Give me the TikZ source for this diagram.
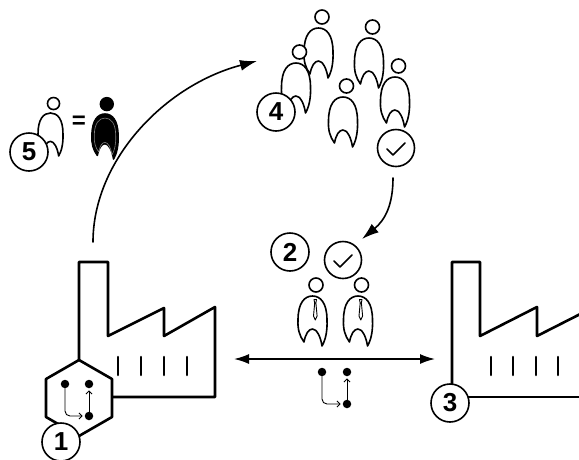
\documentclass[tikz,border=0pt]{standalone}
\usepackage{fontspec}
\setmainfont{Liberation Sans}
\usetikzlibrary{arrows.meta}
% body of a standing figure, top of the body at the origin (y points down)
\newcommand{\bodyoutline}{(-8.5,46) .. controls (-13,40) and (-15,33) .. (-14.5,24) .. controls (-14.5,7) and (-8,0) .. (0,0) .. controls (8,0) and (14.5,7) .. (14.5,24) .. controls (15,35) and (13,44) .. (9.5,50) .. controls (8,40) and (4,33) .. (0,33) .. controls (-4,33) and (-7,38) .. cycle}
\begin{document}
\begin{tikzpicture}[x=1pt, y=-1pt, line join=round, line cap=round, >={Latex[length=17pt,width=11pt]},
	num/.style={circle, draw, line width=1.6pt, fill=white, minimum size=38pt, inner sep=0pt, font=\fontsize{26}{26}\selectfont\bfseries},
	ok/.style={circle, draw, line width=1.6pt, fill=white, minimum size=37pt, inner sep=0pt},
	dot/.style={circle, fill=black, inner sep=0pt, minimum size=8.5pt},
	wall/.style={line width=2.6pt},
	link/.style={line width=1.6pt},
	flow/.style={-{Straight Barb[length=3pt,width=6pt]}, line width=0.9pt, shorten >=2pt},
	person/.pic={\draw[line width=1.6pt, fill=white, pic actions] \bodyoutline; \draw[line width=1.6pt, fill=white, pic actions] (3.5,-11) circle (7);},
	manager/.pic={\pic{person}; \draw[line width=0.9pt, fill=white] (1.5,3.5) -- (4,3.5) -- (3.4,7) -- (4.6,20) -- (2.8,24) -- (1,20) -- (2.2,7) -- cycle;},
	solid/.pic={\draw[line width=1.6pt, fill=black] \bodyoutline; \draw[gray, line width=0.6pt, shift={(0,4.5)}, scale=0.82] \bodyoutline; \fill (2,-11) circle (8);}]
	\clip (0,0) rectangle (579,459);
	% left factory
	\draw[wall] (79,360) |- (108,262) -- (108,336) -- (164,308) -- (164,336) -- (215,307) |- (112,397);
	\foreach \x in {118,141,164,187} \draw[wall] (\x,357)--(\x,375);
	\draw[wall, fill=white] (79,360) -- (112,379) -- (112,417) -- (79,436) -- (46,417) -- (46,379) -- cycle;
	\node[dot] (h1) at (65,384) {};
	\node[dot] (h2) at (89,384) {};
	\node[dot] (h3) at (89,416) {};
	\draw[flow, rounded corners=5pt] (h1) |- (h3);
	\draw[flow] (h3) -- (h2);
	\node[num] (n1) at (61,442) {1};
	% right factory
	\draw[wall] (452,397) |- (480,262) -- (480,336) -- (537,307) -- (537,336) -- (600,304);
	\draw[wall] (450,397) -- (600,397);
	\foreach \x in {491,513,536,558} \draw[wall] (\x,357)--(\x,375);
	\node[num] (n3) at (450,403) {3};
	% exchange between the two
	\coordinate (la) at (234,359);
	\coordinate (ra) at (435,359);
	\draw[link, <->, >={Latex[length=15pt,width=10pt]}] (la) -- (ra);
	\node[dot] (m1) at (322,372) {};
	\node[dot] (m2) at (347,372) {};
	\node[dot] (m3) at (347,404) {};
	\draw[flow, rounded corners=5pt] (m1) |- (m3);
	\draw[flow] (m3) -- (m2);
	\pic at (312.5,296) {manager};
	\pic at (358,296) {manager};
	\node[num] (n2) at (290,252) {2};
	\node[ok] (c2) at (343,260) {};
	\draw[link] ([shift={(-9,1)}]c2.center) -- +(6,6) -- +(18,-6);
	% crowd
	\pic at (318.5,28) {person};
	\pic at (369,38) {person};
	\pic at (395,77) {person};
	\pic at (296,63) {person};
	\pic at (343,97) {person};
	\node[num] (n4) at (276,112) {4};
	\node[ok] (c4) at (396,148) {};
	\draw[link] ([shift={(-9,1)}]c4.center) -- +(6,6) -- +(18,-6);
	% one outline figure equals one filled figure
	\pic[scale=0.86] at (50.5,113) {person};
	\node[font=\fontsize{24}{24}\selectfont\bfseries] (eq) at (79,122) {=};
	\pic[scale=0.9] at (105,114) {solid};
	\node[num] (n5) at (29,152) {5};
	% arrows
	\coordinate (a1s) at (93,242);
	\coordinate (a1e) at (257,61);
	\draw[link, ->] (a1s) .. controls (93,160) and (165,85) .. (a1e);
	\coordinate (a2s) at (393,178);
	\coordinate (a2e) at (362,239);
	\draw[link, ->] (a2s) .. controls (393,205) and (385,220) .. (a2e);
\end{tikzpicture}
\end{document}
